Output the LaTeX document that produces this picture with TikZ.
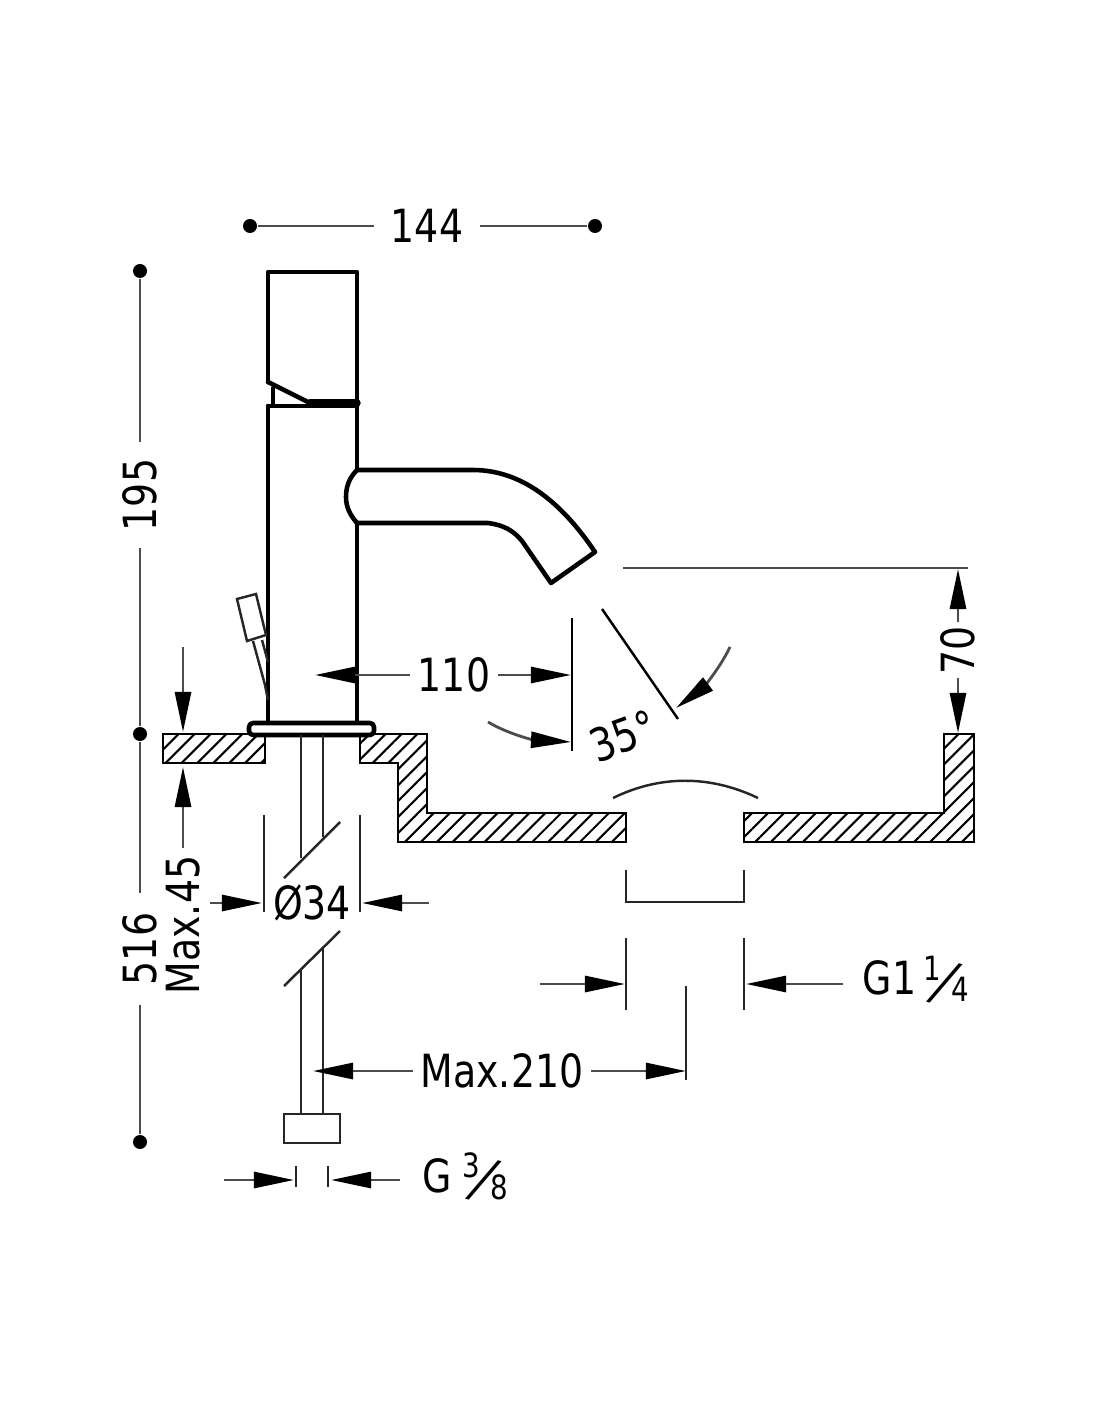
\documentclass[tikz,border=0pt]{standalone}
\usepackage{fontspec}
\setmainfont[FakeStretch=0.92]{DejaVu Sans Condensed}
\usetikzlibrary{arrows.meta,patterns.meta,positioning}
\newcommand{\slashfrac}[2]{\raisebox{4.2pt}{\fontsize{9.5}{10}\selectfont #1}\kern-1.6pt\raisebox{-2.4pt}{\rotatebox{-14}{\fontsize{17}{18}\selectfont ⁄}}\kern-.8pt\raisebox{-2pt}{\fontsize{9.5}{10}\selectfont #2}}
\begin{document}
\begin{tikzpicture}[x=0.01cm,y=-0.01cm,
  body line/.style={line width=1.3pt,line join=round,line cap=round},
  thin line/.style={line width=.7pt,black!85},
  wall/.style={draw,line width=.7pt,pattern={Lines[angle=45,distance=3.2pt,line width=.6pt]}},
  dim/.style={line width=.8pt,black!70},
  dim arrow/.style={dim,-{Triangle[length=.4cm,width=.16cm,black]}},
  dot/.style={circle,fill=black,inner sep=0pt,minimum size=.14cm},
  dim text/.style={font=\fontsize{13}{14}\selectfont,inner xsep=2pt,inner ysep=.5pt}]
  \useasboundingbox (0,0) rectangle (1100,1422);

  % lever and body
  \draw[body line] (268,382) -- (268,272) -- (357,272) -- (357,470);
  \draw[body line] (268,382) -- (310,403);
  \draw[body line,line width=2.1pt] (310,403) -- (357,403);
  \draw[body line,line width=1.1pt] (273,388) -- (273,405);
  \draw[body line,line width=1.1pt] (268,406) -- (357,406);
  \draw[body line] (268,406) -- (268,723);
  \draw[body line] (357,523) -- (357,723);

  % spout
  \draw[body line] (357,470) -- (473,470) .. controls (520,470) and (560,500) .. (595,552)
    -- (551,583) -- (522,541) .. controls (513,530) and (503,525) .. (488,523) -- (357,523);
  \draw[body line] (357,470) .. controls (349,478) and (346,487) .. (346,497)
    .. controls (346,507) and (350,515) .. (357,523);

  % small handle
  \draw[thin line] (237,599) -- (256,594) -- (266,635) -- (247,641) -- cycle;
  \draw[thin line] (253,641) -- (265,685) -- (268,700);
  \draw[thin line] (262,640) -- (268,662);

  % basin
  \draw[wall] (163,734) rectangle (265,763);
  \draw[wall] (360,734) -- (427,734) -- (427,813) -- (626,813) -- (626,842) -- (398,842)
    -- (398,763) -- (360,763) -- cycle;
  \draw[wall] (744,813) -- (944,813) -- (944,734) -- (974,734) -- (974,842) -- (744,842) -- cycle;
  \draw[thin line] (613,798) .. controls (660,775) and (710,775) .. (758,798);
  \draw[body line,rounded corners=.04cm,fill=white] (249,723) rectangle (374,735);

  % pipe
  \draw[thin line] (301,735) -- (301,858);
  \draw[thin line] (323,735) -- (323,837);
  \draw[thin line] (284,878) -- (340,822);
  \draw[thin line] (284,986) -- (340,931);
  \draw[thin line] (301,970) -- (301,1114);
  \draw[thin line] (323,948) -- (323,1114);
  \draw[thin line] (284,1114) rectangle (340,1143);

  % overall sizes
  \node[dot] (top l) at (250,226) {};
  \node[dot] (top r) at (595,226) {};
  \node[dim text,inner xsep=4.5pt] (d144) at (427,226) {144};
  \draw[dim] (top l) -- (d144);
  \draw[dim] (d144) -- (top r);
  \node[dot] (left a) at (140,271) {};
  \node[dot] (left b) at (140,734) {};
  \node[dot] (left c) at (140,1142) {};
  \node[dim text,rotate=90,inner xsep=4.5pt] (d195) at (140,495) {195};
  \node[dim text,rotate=90,inner xsep=5.5pt] (d516) at (140,949) {516};
  \draw[dim] (left a) -- (d195);
  \draw[dim] (d195) -- (left b);
  \draw[dim] (left b) -- (d516);
  \draw[dim] (d516) -- (left c);

  % deck thickness
  \node[dim text,rotate=90] (d45) at (183,925) {Max.45};
  \coordinate (deck start) at (183,647);
  \coordinate (deck top) at (183,732);
  \coordinate (deck bottom) at (183,767);
  \draw[dim arrow] (deck start) -- (deck top);
  \draw[dim arrow] (d45) -- (deck bottom);

  % hole diameter
  \node[dim text] (d34) at (312,903) {Ø34};
  \coordinate (hole l) at (264,815);
  \coordinate (hole lb) at (264,912);
  \coordinate (hole r) at (360,815);
  \coordinate (hole rb) at (360,912);
  \draw[thin line] (hole l) -- (hole lb);
  \draw[thin line] (hole r) -- (hole rb);
  \coordinate (hole a) at (210,903);
  \coordinate (hole b) at (429,903);
  \coordinate (hole c) at (262,903);
  \coordinate (hole d) at (362,903);
  \draw[dim arrow] (hole a) -- (hole c);
  \draw[dim arrow] (hole b) -- (hole d);

  % reach of the spout
  \coordinate (tip a) at (572,618);
  \coordinate (tip b) at (572,751);
  \draw[thin line,black] (tip a) -- (tip b);
  \node[dim text] (d110) at (454,675) {110};
  \coordinate (reach l) at (315,675);
  \coordinate (reach r) at (571,675);
  \draw[dim arrow] (d110) -- (reach l);
  \draw[dim arrow] (d110) -- (reach r);

  % height of the outlet
  \coordinate (lip a) at (623,568);
  \coordinate (lip b) at (968,568);
  \draw[dim] (lip a) -- (lip b);
  \node[dim text,rotate=90,inner xsep=1pt] (d70) at (958,650) {70};
  \coordinate (lip tip) at (958,569);
  \coordinate (rim tip) at (958,733);
  \draw[dim arrow] (d70) -- (lip tip);
  \draw[dim arrow] (d70) -- (rim tip);

  % angle
  \coordinate (jet a) at (602,609);
  \coordinate (jet b) at (678,719);
  \draw[thin line,black] (jet a) -- (jet b);
  \node[dim text,rotate=20] (d35) at (623,736) {35°};
  \coordinate (arc a) at (488,722);
  \coordinate (arc b) at (571,742);
  \coordinate (arc c) at (730,647);
  \coordinate (arc d) at (676,708);
  \draw[dim arrow] (arc a) .. controls (510,735) and (535,740) .. (arc b);
  \draw[dim arrow] (arc c) .. controls (718,672) and (700,690) .. (arc d);

  % waste
  \draw[thin line] (626,870) -- (626,902) -- (744,902) -- (744,870);
  \coordinate (waste l) at (626,938);
  \coordinate (waste lb) at (626,1010);
  \coordinate (waste r) at (744,938);
  \coordinate (waste rb) at (744,1010);
  \draw[thin line] (waste l) -- (waste lb);
  \draw[thin line] (waste r) -- (waste rb);
  \coordinate (waste a) at (540,984);
  \coordinate (waste b) at (625,984);
  \coordinate (waste c) at (843,984);
  \coordinate (waste d) at (746,984);
  \draw[dim arrow] (waste a) -- (waste b);
  \draw[dim arrow] (waste c) -- (waste d);
  \node[dim text,anchor=west] (g114) at (855,981) {G1\,\slashfrac{1}{4}};

  % max reach
  \coordinate (max a) at (686,986);
  \coordinate (max b) at (686,1080);
  \draw[thin line] (max a) -- (max b);
  \node[dim text] (d210) at (502,1071) {Max.210};
  \coordinate (max l) at (313,1071);
  \coordinate (max r) at (686,1071);
  \draw[dim arrow] (d210) -- (max l);
  \draw[dim arrow] (d210) -- (max r);

  % supply
  \coordinate (nut a) at (296,1166);
  \coordinate (nut ab) at (296,1187);
  \coordinate (nut b) at (328,1166);
  \coordinate (nut bb) at (328,1187);
  \draw[thin line] (nut a) -- (nut ab);
  \draw[thin line] (nut b) -- (nut bb);
  \coordinate (nut c) at (224,1180);
  \coordinate (nut d) at (294,1180);
  \coordinate (nut e) at (400,1180);
  \coordinate (nut f) at (331,1180);
  \draw[dim arrow] (nut c) -- (nut d);
  \draw[dim arrow] (nut e) -- (nut f);
  \node[dim text,anchor=west] (g38) at (415,1178) {G\kern3pt\slashfrac{3}{8}};
\end{tikzpicture}
\end{document}
